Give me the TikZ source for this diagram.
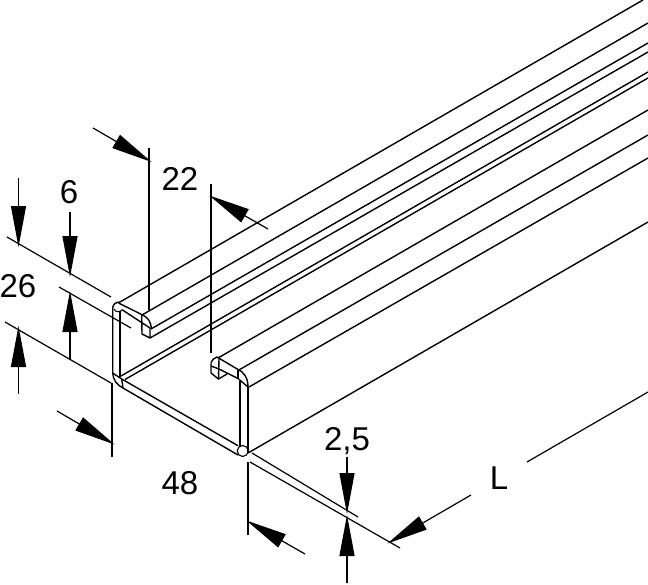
\documentclass[tikz,border=0pt]{standalone}
\usepackage{fontspec}
\setmainfont{Liberation Sans}
\usetikzlibrary{arrows.meta}
\tikzset{
x=1pt, y=-1pt, % picture is laid out in the pixels of the sheet
profile/.style={line width=1.4pt, line join=round}, % edges of the rail
extline/.style={line width=1.2pt}, % extension lines of the dimensions
dimarrow/.style={line width=1.2pt, shorten >=-3pt, -{Triangle[length=41pt, width=15pt]}}, % dimension arrows
dimtext/.style={anchor=base, inner sep=0pt, font=\fontsize{33}{33}\selectfont}, % dimension values
}

\begin{document}
\begin{tikzpicture}
            \useasboundingbox (0,0) rectangle (648,584);

            % long edges of the rail, running out of the sheet
            \foreach \sx/\sy/\ex/\ey in {120/302/643/0, 142/315/648/23, 151/329/648/43, 150/338/648/52,
                    121/376/648/72, 125/379.5/648/78, 218/358/648/110, 238/370.5/648/135,
                    249/387/648/158, 248/453/648/222}
                \draw[profile] (\sx,\sy) -- (\ex,\ey);

            % left flange
            \draw[profile] (112.7,373) -- (112.7,308) .. controls (113,304) and (116,302) .. (120,302);
            \draw[profile] (118.5,303) -- (141.7,314.5) .. controls (148,317) and (151,322) .. (151.5,329);
            \draw[profile] (122.5,310) -- (150,328) -- (150,338) -- (142,334) -- (141.7,314.5);
            \draw[profile, line width=1.1pt] (114,309) .. controls (115.5,312.5) and (120.5,312.5) .. (122.5,309.5);
            \draw[profile] (120,311) -- (120,376.7);

            % base with its two bends
            \draw[profile] (112.7,373) .. controls (113,380) and (117,385) .. (123,388) -- (238,455);
            \draw[profile] (112.7,373) -- (121.7,379) -- (123,388);
            \draw[profile] (121.7,379) -- (238,445.7);
            \draw[profile, line width=1.1pt] (242.7,451) circle (5.5);

            % right web and right flange
            \draw[profile] (240,381) -- (240,446);
            \draw[profile] (248,387) -- (248,453);
            \draw[profile] (211,362.5) .. controls (212,360) and (214,358) .. (217,357) -- (238,369.5)
                .. controls (244,372) and (248,378) .. (248,387);
            \draw[profile] (211,362.5) -- (211,373) -- (218.5,379) -- (227,374);
            \draw[profile] (219,359) -- (218.5,379);
            \draw[profile] (211,366) -- (219,369) -- (238,378.5) -- (248,387);
            \draw[profile] (238,369.5) -- (238,378.5);

            % extension lines
            \draw[extline] (149,148) -- (149,310);
            \draw[extline] (211,184) -- (211,353);
            \draw[extline] (7,237) -- (111,297);
            \draw[extline] (59,287) -- (131,328);
            \draw[extline] (5,322) -- (111,383);
            \draw[extline] (112,383) -- (112,457);
            \draw[extline] (248,462) -- (248,535);
            \draw[extline] (252,453) -- (358,517);
            \draw[extline] (250,462) -- (400,548);
            \draw[extline] (527,462) -- (648,392);

            % dimension arrows
            \draw[dimarrow] (93,128) -- (149,160.5);
            \draw[dimarrow] (268,229) -- (212,197);
            \draw[dimarrow] (18.5,178) -- (18.5,244);
            \draw[dimarrow] (70,212) -- (70,274);
            \draw[dimarrow] (70,360) -- (70,294);
            \draw[dimarrow] (18.5,394) -- (18.5,329);
            \draw[dimarrow] (57,411) -- (112,443);
            \draw[dimarrow] (305,554) -- (249,522);
            \draw[dimarrow] (347,457) -- (347,511);
            \draw[dimarrow] (347,583) -- (347,518);
            \draw[dimarrow] (471,495) -- (390,542);

            % dimension values
            \node[dimtext] (dimflange) at (180,190) {22};
            \node[dimtext] (dimlip) at (69,203) {6};
            \node[dimtext] (dimheight) at (18,297) {26};
            \node[dimtext] (dimwidth) at (180,494) {48};
            \node[dimtext] (dimgauge) at (347,450) {2,5};
            \node[dimtext] (dimlength) at (499,489) {L};
        \end{tikzpicture}
\end{document}
